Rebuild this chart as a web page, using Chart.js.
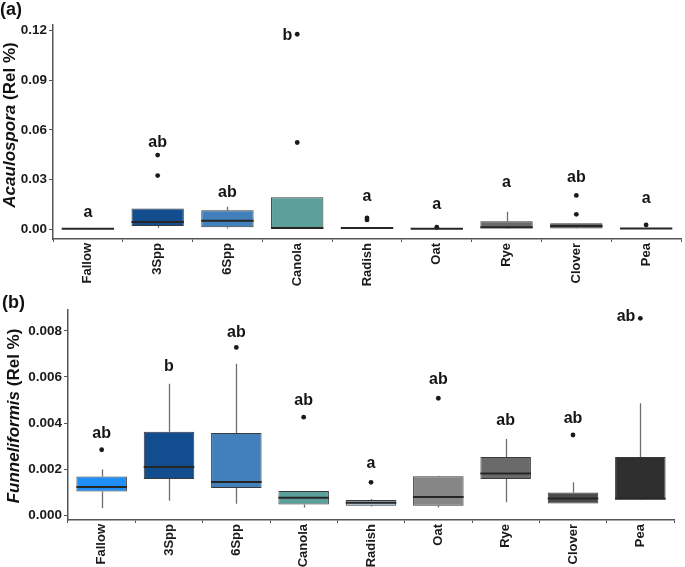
<!DOCTYPE html>
<html>
<head>
<meta charset="utf-8">
<script src="https://cdn.jsdelivr.net/npm/chart.js@4"></script>
<style>
  body { margin: 0; background: #fff; }
  #wrapA { position: absolute; left: 0; top: 0; width: 685px; height: 292px; }
  #wrapB { position: absolute; left: 0; top: 290px; width: 685px; height: 277px; }
</style>
</head>
<body>
<div id="wrapA"><canvas id="chartA"></canvas></div>
<div id="wrapB"><canvas id="chartB"></canvas></div>
<script>
var categories = ["Fallow", "3Spp", "6Spp", "Canola", "Radish", "Oat", "Rye", "Clover", "Pea"];
var boxColors = ["#1f8ff7", "#124d8f", "#4280bc", "#5d9f9b", "#a3b6cf", "#868686", "#6a6a6a", "#4b4b4b", "#2f2f2f"];

// (a) Acaulospora
var acaLow  = [0, 0.0008, 0.0004, 0.0002, 0.0002, 0, 0.0002, 0.0002, 0.0001];
var acaQ1   = [0.0001, 0.0020, 0.0012, 0.0004, 0.0003, 0.0001, 0.0004, 0.0004, 0.0002];
var acaMed  = [0.0003, 0.0044, 0.0052, 0.0008, 0.0007, 0.0003, 0.0012, 0.0020, 0.0005];
var acaQ3   = [0.0006, 0.0126, 0.0114, 0.0194, 0.0012, 0.0006, 0.0048, 0.0036, 0.0008];
var acaHigh = [0.0007, 0.0126, 0.0136, 0.0194, 0.0014, 0.0007, 0.0106, 0.0036, 0.0009];
var acaOut  = [[], [0.0324, 0.0448], [], [0.0524, 0.1178], [0.0056, 0.0068], [0.0012], [], [0.0090, 0.0204], [0.0026]];
var acaLetters = ["a", "ab", "ab", "b", "a", "a", "a", "ab", "a"];
var acaLetterY = [0.0102, 0.0524, 0.0224, 0.1172, 0.0196, 0.0150, 0.0280, 0.0310, 0.0188];
var acaTicks = [0, 0.03, 0.06, 0.09, 0.12];

// (b) Funneliformis
var funLow  = [0.00032, 0.00064, 0.00051, 0.00035, 0.00039, 0.00035, 0.00058, 0.00052, 0.00070];
var funQ1   = [0.00104, 0.00159, 0.00120, 0.00048, 0.00043, 0.00043, 0.00159, 0.00052, 0.00072];
var funMed  = [0.00124, 0.00210, 0.00146, 0.00077, 0.00056, 0.00081, 0.00182, 0.00074, 0.00073];
var funQ3   = [0.00169, 0.00363, 0.00358, 0.00107, 0.00068, 0.00170, 0.00254, 0.00100, 0.00254];
var funHigh = [0.00200, 0.00571, 0.00657, 0.00107, 0.00072, 0.00172, 0.00332, 0.00144, 0.00486];
var funOut  = [[0.00285], [], [0.00728], [0.00426], [0.00144], [0.00508], [], [0.00349], [0.00854]];
var funLetters = ["ab", "b", "ab", "ab", "a", "ab", "ab", "ab", "ab"];
var funLetterY = [0.00356, 0.00647, 0.00791, 0.00496, 0.00224, 0.00590, 0.00410, 0.00421, 0.00860];
var funTicks = [0, 0.002, 0.004, 0.006, 0.008];

var FONT = "'Liberation Sans', Arial, sans-serif";

// whiskers, medians, letters, panel tag and y title
var boxPlugin = {
  id: "boxParts",
  beforeDatasetsDraw: function (chart) {
    var o = chart.options.plugins.boxParts;
    var xs = chart.scales.x, ys = chart.scales.y, ctx = chart.ctx;
    ctx.save();
    ctx.strokeStyle = "#6e6e6e";
    ctx.lineWidth = 1.3;
    for (var i = 0; i < categories.length; i++) {
      var x = Math.round(xs.getPixelForValue(i)) + 0.5;
      ctx.beginPath();
      ctx.moveTo(x, ys.getPixelForValue(o.low[i]));
      ctx.lineTo(x, ys.getPixelForValue(o.q1[i]));
      ctx.moveTo(x, ys.getPixelForValue(o.q3[i]));
      ctx.lineTo(x, ys.getPixelForValue(o.high[i]));
      ctx.stroke();
    }
    ctx.restore();
  },
  afterDatasetsDraw: function (chart) {
    var o = chart.options.plugins.boxParts;
    var xs = chart.scales.x, ys = chart.scales.y, ctx = chart.ctx;
    var bars = chart.getDatasetMeta(0).data;
    ctx.save();
    ctx.strokeStyle = "#262626";
    ctx.lineWidth = 2;
    for (var i = 0; i < categories.length; i++) {
      var b = bars[i];
      var y = ys.getPixelForValue(o.med[i]);
      ctx.beginPath();
      ctx.moveTo(b.x - b.width / 2, y);
      ctx.lineTo(b.x + b.width / 2, y);
      ctx.stroke();
    }
    // significance letters
    ctx.fillStyle = "#151515";
    ctx.font = "bold 16px " + FONT;
    ctx.textBaseline = "middle";
    ctx.textAlign = "center";
    for (var j = 0; j < categories.length; j++) {
      var lx = xs.getPixelForValue(j);
      var ly = ys.getPixelForValue(o.letterY[j]);
      var clash = o.out[j].some(function (v) { return Math.abs(ys.getPixelForValue(v) - ly) < 8; });
      if (clash) {
        var w = ctx.measureText(o.letters[j]).width;
        lx = lx - w / 2 - 5;
      }
      ctx.fillText(o.letters[j], lx, ly);
    }
    ctx.restore();
  },
  afterDraw: function (chart) {
    var o = chart.options.plugins.boxParts;
    var ctx = chart.ctx;
    ctx.save();
    ctx.fillStyle = "#111";
    ctx.font = "bold 18px " + FONT;
    ctx.textBaseline = "top";
    ctx.textAlign = "left";
    ctx.fillText(o.tag, o.tagX, o.tagY);
    // y title: italic genus + plain unit
    ctx.translate(o.titleX, o.titleY);
    ctx.rotate(-Math.PI / 2);
    ctx.textBaseline = "middle";
    ctx.font = "italic bold 17px " + FONT;
    var w1 = ctx.measureText(o.genus).width;
    ctx.font = "bold 17px " + FONT;
    var w2 = ctx.measureText(" (Rel %)").width;
    var start = -(w1 + w2) / 2;
    ctx.font = "italic bold 17px " + FONT;
    ctx.fillText(o.genus, start, 0);
    ctx.font = "bold 17px " + FONT;
    ctx.fillText(" (Rel %)", start + w1, 0);
    ctx.restore();
  }
};

function makeChart(id, p) {
  var outliers = [];
  p.out.forEach(function (list, i) {
    list.forEach(function (v) { outliers.push({ x: categories[i], y: v }); });
  });
  return new Chart(document.getElementById(id).getContext("2d"), {
    type: "bar",
    data: {
      labels: categories,
      datasets: [
        {
          label: "box",
          data: categories.map(function (c, i) { return [p.q1[i], p.q3[i]]; }),
          backgroundColor: boxColors,
          borderColor: "#3a3a3a",
          borderWidth: 1,
          borderSkipped: false,
          barPercentage: 0.75,
          categoryPercentage: 1.0,
          order: 2
        },
        {
          type: "scatter",
          label: "outliers",
          data: outliers,
          pointRadius: 2.4,
          pointBackgroundColor: "#1a1a1a",
          pointBorderWidth: 0,
          order: 1
        }
      ]
    },
    options: {
      responsive: true,
      maintainAspectRatio: false,
      animation: false,
      layout: { padding: p.padding },
      plugins: {
        legend: { display: false },
        tooltip: { enabled: false },
        boxParts: p
      },
      scales: {
        x: {
          type: "category",
          offset: true,
          grid: { drawOnChartArea: false, drawTicks: true, tickLength: 3, color: "#555" },
          border: { color: "#555", width: 1.5 },
          ticks: {
            minRotation: 90, maxRotation: 90, padding: 1,
            color: "#1a1a1a", font: { family: FONT, size: 13, weight: "bold" }
          },
          afterFit: function (s) { s.height = p.xHeight; }
        },
        y: {
          min: p.min, max: p.max,
          grid: { drawOnChartArea: false, drawTicks: true, tickLength: 4, color: "#555" },
          border: { color: "#555", width: 1.5 },
          ticks: {
            padding: 2, color: "#1a1a1a",
            font: { family: FONT, size: 13.5, weight: "bold" },
            callback: function (v) { return v.toFixed(p.decimals); }
          },
          afterBuildTicks: function (s) { s.ticks = p.ticks.map(function (v) { return { value: v }; }); },
          afterFit: function (s) { s.width = p.yWidth; }
        }
      }
    },
    plugins: [boxPlugin]
  });
}

makeChart("chartA", {
  low: acaLow, q1: acaQ1, med: acaMed, q3: acaQ3, high: acaHigh, out: acaOut,
  letters: acaLetters, letterY: acaLetterY, ticks: acaTicks, decimals: 2,
  min: -0.0059, max: 0.1234,
  padding: { top: 25, right: 2, left: 0, bottom: 0 }, xHeight: 53, yWidth: 53,
  tag: "(a)", tagX: 0, tagY: 1, genus: "Acaulospora", titleX: 10, titleY: 125
});

makeChart("chartB", {
  low: funLow, q1: funQ1, med: funMed, q3: funQ3, high: funHigh, out: funOut,
  letters: funLetters, letterY: funLetterY, ticks: funTicks, decimals: 3,
  min: -0.00019, max: 0.0089,
  padding: { top: 20, right: 11, left: 0, bottom: 0 }, xHeight: 47, yWidth: 68,
  tag: "(b)", tagX: 2, tagY: 4, genus: "Funneliformis", titleX: 14, titleY: 126
});
</script>
</body>
</html>
